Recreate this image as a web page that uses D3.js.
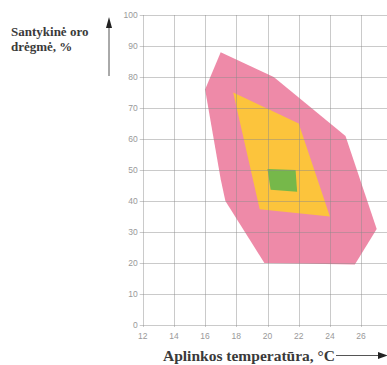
<!DOCTYPE html>
<html>
<head>
<meta charset="utf-8">
<script src="https://cdn.jsdelivr.net/npm/d3@7"></script>
<style>
  html, body { margin: 0; padding: 0; background: #fff; }
  svg { display: block; }
</style>
</head>
<body>
<div id="chart"></div>
<script>
// Data
const xTicks = [12, 14, 16, 18, 20, 22, 24, 26, 28];
const yTicks = [0, 10, 20, 30, 40, 50, 60, 70, 80, 90, 100];
const pinkZone = [[17, 88], [20.4, 80], [25, 61], [27, 31], [25.6, 19.5], [19.8, 20], [17.3, 40], [17, 47], [16, 76]];
const yellowZone = [[17.8, 75], [22, 65], [24, 35], [19.5, 37.3]];
const greenZone = [[20, 50.3], [21.8, 50], [21.9, 43], [20.2, 43.6]];
const yLabelLines = ["Santykinė oro", "drėgmė, %"];
const xLabel = "Aplinkos temperatūra, °C";

const W = 387, H = 365;
const svg = d3.select("#chart").append("svg").attr("width", W).attr("height", H);

const x = d3.scaleLinear().domain([12, 28]).range([142.7, 142.7 + 16 * 15.6]);
const y = d3.scaleLinear().domain([0, 100]).range([325, 15]);

const line = d3.line().x(d => x(d[0])).y(d => y(d[1]));

// zones
svg.append("path").attr("d", line(pinkZone) + "Z").attr("fill", "#ee8aa8");
svg.append("path").attr("d", line(yellowZone) + "Z").attr("fill", "#fcc43c");
svg.append("path").attr("d", line(greenZone) + "Z").attr("fill", "#76b84a");

// grid (drawn on top, semi-transparent)
const grid = svg.append("g").attr("stroke", "#8a8a8a").attr("stroke-opacity", 0.45).attr("stroke-width", 1);
grid.selectAll("line.v").data(xTicks).join("line")
  .attr("x1", d => Math.round(x(d)) + 0.5).attr("x2", d => Math.round(x(d)) + 0.5)
  .attr("y1", y(0) + 2).attr("y2", y(100));
grid.selectAll("line.h").data(yTicks).join("line")
  .attr("y1", d => Math.round(y(d)) + 0.5).attr("y2", d => Math.round(y(d)) + 0.5)
  .attr("x1", x(12) - 3).attr("x2", W);

// tick labels
const tickFont = "Liberation Sans, Arial, sans-serif";
svg.append("g").selectAll("text").data(yTicks).join("text")
  .attr("x", x(12) - 5).attr("y", d => y(d) + 3)
  .attr("text-anchor", "end")
  .attr("font-family", tickFont).attr("font-size", 8.5).attr("fill", "#999")
  .text(d => d);
svg.append("g").selectAll("text").data(xTicks).join("text")
  .attr("x", d => x(d)).attr("y", y(0) + 14)
  .attr("text-anchor", "middle")
  .attr("font-family", tickFont).attr("font-size", 8.5).attr("fill", "#999")
  .text(d => d);

// Y axis title
const serif = "Liberation Serif, Times New Roman, serif";
svg.append("text")
  .attr("font-family", serif).attr("font-size", 13).attr("font-weight", "bold").attr("fill", "#3a3a3a")
  .selectAll("tspan").data(yLabelLines).join("tspan")
  .attr("x", 11).attr("y", (d, i) => 36 + i * 15).text(d => d);

// Y arrow
svg.append("line").attr("x1", 109).attr("x2", 109).attr("y1", 76).attr("y2", 24)
  .attr("stroke", "#555").attr("stroke-width", 1);
svg.append("path").attr("d", "M106,28 L109,17 L112,28 Z").attr("fill", "#222");

// X axis title
svg.append("text").attr("x", 163).attr("y", 361)
  .attr("font-family", serif).attr("font-size", 15.5).attr("font-weight", "bold").attr("fill", "#3a3a3a")
  .text(xLabel);

// X arrow
svg.append("line").attr("x1", 336).attr("x2", 380).attr("y1", 355.5).attr("y2", 355.5)
  .attr("stroke", "#555").attr("stroke-width", 1);
svg.append("path").attr("d", "M378,352 L388,355.5 L378,359 Z").attr("fill", "#222");
</script>
</body>
</html>
